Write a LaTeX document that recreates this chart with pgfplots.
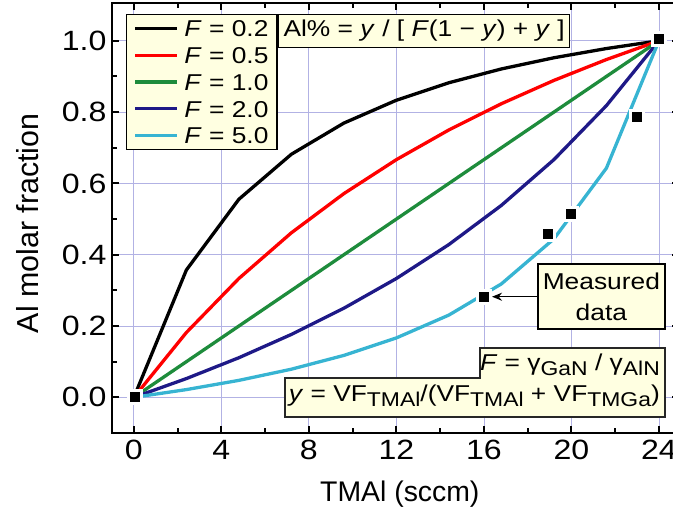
\documentclass[border=0pt]{standalone}
\usepackage{fontspec}
\setmainfont{Liberation Sans}
\newfontfamily\wide{Liberation Sans}[FakeStretch=1.15]
\usepackage{pgfplots}
\pgfplotsset{compat=1.18}
\usetikzlibrary{arrows.meta}
\definecolor{cgreen}{RGB}{30,140,60}
\definecolor{cnavy}{RGB}{30,25,135}
\definecolor{ccyan}{RGB}{55,180,210}
\definecolor{boxfill}{RGB}{255,255,225}
\definecolor{gridc}{RGB}{178,178,228}
\newcommand{\sub}[1]{\raisebox{-0.42ex}{\fontsize{20}{20}\selectfont #1}}
\begin{document}
\begin{tikzpicture}
\begin{axis}[
  at={(0bp,0bp)}, anchor=south west,
  scale only axis, width=566.6bp, height=430bp,
  xmin=-1, xmax=24.9, ymin=-0.1, ymax=1.106,
  xtick={0,4,8,12,16,20,24}, ytick={0,0.2,0.4,0.6,0.8,1.0},
  minor x tick num=1, minor y tick num=1,
  tick align=inside, major tick length=7bp, minor tick length=5bp,
  every tick/.style={black, line width=2bp},
  axis line style={line width=2.6bp},
  grid=major, major grid style={gridc, line width=0.8bp},
  yticklabel style={/pgf/number format/fixed, /pgf/number format/fixed zerofill, /pgf/number format/precision=1},
  /pgf/number format/assume math mode=true,
  tick label style={font=\wide\fontsize{28}{28}\selectfont},
  xticklabel style={yshift=-4bp},
  yticklabel style={xshift=-2bp},
  xlabel={TMAl (sccm)},
  ylabel={Al molar fraction},
  xlabel style={at={(axis description cs:0.508,-0.1598)}, anchor=base, font=\fontsize{28.5}{28.5}\selectfont},
  ylabel style={at={(axis description cs:-0.1306,0.4877)}, anchor=base, font=\fontsize{30.5}{30.5}\selectfont},
  legend style={at={(axis description cs:0.0247,0.9744)}, anchor=north west,
    fill=boxfill, draw=black, line width=1.3bp,
    font=\wide\fontsize{23}{23}\selectfont,
    inner xsep=7bp, inner ysep=1.8bp, row sep=2.2bp, column sep=4bp,
    nodes={inner sep=1.5bp, text height=19bp, text depth=2.5bp}},
  legend cell align=left,
  legend image code/.code={\draw[#1] (0bp,0bp) -- (42bp,0bp);},
]
\addplot[black, line width=3.3bp] coordinates {(0,0) (2.4,0.35714) (4.8,0.55556) (7.2,0.68182) (9.6,0.76923) (12,0.83333) (14.4,0.88235) (16.8,0.92105) (19.2,0.95238) (21.6,0.97826) (24,1)};
\addlegendentry{\textit{F} = 0.2}
\addplot[red, line width=3.3bp] coordinates {(0,0) (2.4,0.18182) (4.8,0.33333) (7.2,0.46154) (9.6,0.57143) (12,0.66667) (14.4,0.75) (16.8,0.82353) (19.2,0.88889) (21.6,0.94737) (24,1)};
\addlegendentry{\textit{F} = 0.5}
\addplot[cgreen, line width=3.3bp] coordinates {(0,0) (2.4,0.1) (4.8,0.2) (7.2,0.3) (9.6,0.4) (12,0.5) (14.4,0.6) (16.8,0.7) (19.2,0.8) (21.6,0.9) (24,1)};
\addlegendentry{\textit{F} = 1.0}
\addplot[cnavy, line width=3.3bp] coordinates {(0,0) (2.4,0.05263) (4.8,0.11111) (7.2,0.17647) (9.6,0.25) (12,0.33333) (14.4,0.42857) (16.8,0.53846) (19.2,0.66667) (21.6,0.81818) (24,1)};
\addlegendentry{\textit{F} = 2.0}
\addplot[ccyan, line width=3.3bp] coordinates {(0,0) (2.4,0.02174) (4.8,0.04762) (7.2,0.07895) (9.6,0.11765) (12,0.16667) (14.4,0.23077) (16.8,0.31818) (19.2,0.44444) (21.6,0.64286) (24,1)};
\addlegendentry{\textit{F} = 5.0}
\addplot[forget plot, only marks, mark=square*, mark size=6.5bp, mark options={fill=black, draw=white, line width=3bp}] coordinates {(0.05,0) (16,0.282) (18.95,0.457) (20,0.513) (23,0.786) (24,1.006)};
% formula box
\node[anchor=base west, draw=black, fill=boxfill, line width=1.3bp, inner xsep=5bp, inner ysep=5.5bp, text height=17bp, text depth=5bp, font=\wide\fontsize{23}{23}\selectfont] at (axis cs:6.583,1.0115) {Al\% = \textit{y} / [ \textit{F}(1 − \textit{y}) + \textit{y} ]};
% measured data box
\node[draw=black, fill=boxfill, line width=1.5bp, align=center, font=\wide\fontsize{23}{31}\selectfont, minimum width=127bp, minimum height=65bp, inner sep=0bp] (md) at (axis cs:21.37,0.2822) {Measured\\data};
\draw[-{Stealth[length=10bp,width=8bp]}, line width=1.5bp] (md.west) -- (axis cs:16.37,0.2822);
% stepped box
\draw[fill=boxfill, line width=1.5bp, draw=black!85] (axis cs:15.82,0.1383) -- (axis cs:24.27,0.1383) -- (axis cs:24.27,-0.0553) -- (axis cs:6.90,-0.0553) -- (axis cs:6.90,0.0541) -- (axis cs:15.82,0.0541) -- cycle;
\node[anchor=base east, inner sep=0bp, font=\wide\fontsize{23}{23}\selectfont] at (axis cs:24.05,0.0766) {\textit{F} = γ\sub{GaN} / γ\sub{AlN}};
\node[anchor=base east, inner sep=0bp, font=\wide\fontsize{23}{23}\selectfont] at (axis cs:24.05,-0.0123) {\textit{y} = VF\sub{TMAl}/(VF\sub{TMAl} + VF\sub{TMGa})};
\end{axis}
\pgfresetboundingbox
\path[use as bounding box] (-112bp,-81bp) rectangle (561bp,433bp);
\end{tikzpicture}
\end{document}
